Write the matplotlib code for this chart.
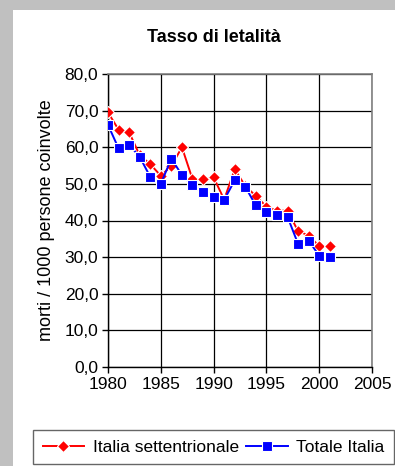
import matplotlib
matplotlib.use("Agg")
import matplotlib.pyplot as plt
from matplotlib.patches import Rectangle
from matplotlib.ticker import FuncFormatter

plt.rcParams['font.family'] = ['Liberation Sans', 'DejaVu Sans']

anni = list(range(1980, 2002))
nord = [69.5, 64.8, 64.1, 57.8, 55.4, 52.2, 54.9, 60.0, 51.3, 51.3, 51.8,
        45.7, 54.0, 49.4, 46.7, 43.8, 42.7, 42.7, 37.1, 35.9, 33.0, 33.0]
italia = [66.1, 59.7, 60.7, 57.4, 51.9, 50.0, 56.9, 52.4, 49.6, 47.8, 46.4,
          45.6, 51.0, 49.2, 44.1, 42.3, 41.4, 41.0, 33.6, 34.5, 30.4, 30.1]

fig = plt.figure(figsize=(3.95, 4.66), dpi=100, facecolor='#C0C0C0')
# white chart area inside the grey frame
fig.patches.append(Rectangle((13 / 395, 0), 1 - 13 / 395, 1 - 10 / 466,
                             transform=fig.transFigure, facecolor='white',
                             edgecolor='none', zorder=-10))

ax = fig.add_axes([108 / 395, 1 - 367 / 466, 264 / 395, 293 / 466])
ax.set_facecolor('white')

ax.plot(anni, nord, color='#FF0000', lw=1.4, marker='D', ms=6,
        mfc='#FF0000', mec='white', mew=0.8, label='Italia settentrionale', zorder=3)
ax.plot(anni, italia, color='#0000FF', lw=1.4, marker='s', ms=6.5,
        mfc='#0000FF', mec='white', mew=0.8, label='Totale Italia', zorder=3)

ax.set_xlim(1980, 2005)
ax.set_ylim(0, 80)
ax.set_xticks(range(1980, 2006, 5))
ax.set_yticks(range(0, 81, 10))
ax.yaxis.set_major_formatter(FuncFormatter(lambda v, p: f"{v:.1f}".replace('.', ',')))
ax.grid(True, color='black', lw=0.9)
ax.set_axisbelow(True)
ax.tick_params(direction='out', length=4, width=1, labelsize=12.5, colors='black', pad=3)

for s in ['top', 'right']:
    ax.spines[s].set_color('#808080')
    ax.spines[s].set_linewidth(1.2)
for s in ['left', 'bottom']:
    ax.spines[s].set_color('black')
    ax.spines[s].set_linewidth(1.0)

ax.set_ylabel('morti / 1000 persone coinvolte', fontsize=13, labelpad=7)
fig.text(214 / 395, 1 - 38 / 466, 'Tasso di letalità', ha='center', va='center',
         fontsize=13, fontweight='bold')

leg = fig.legend(loc='upper left', bbox_to_anchor=(33 / 395, 1 - 430 / 466),
                 ncol=2, frameon=True, fancybox=False, fontsize=12.5,
                 handlelength=2.4, handletextpad=0.5, columnspacing=0.4,
                 borderpad=0.55, borderaxespad=0)
leg.get_frame().set_edgecolor('#404040')
leg.get_frame().set_linewidth(1.0)

fig.savefig('out.png', dpi=100, facecolor=fig.get_facecolor())
